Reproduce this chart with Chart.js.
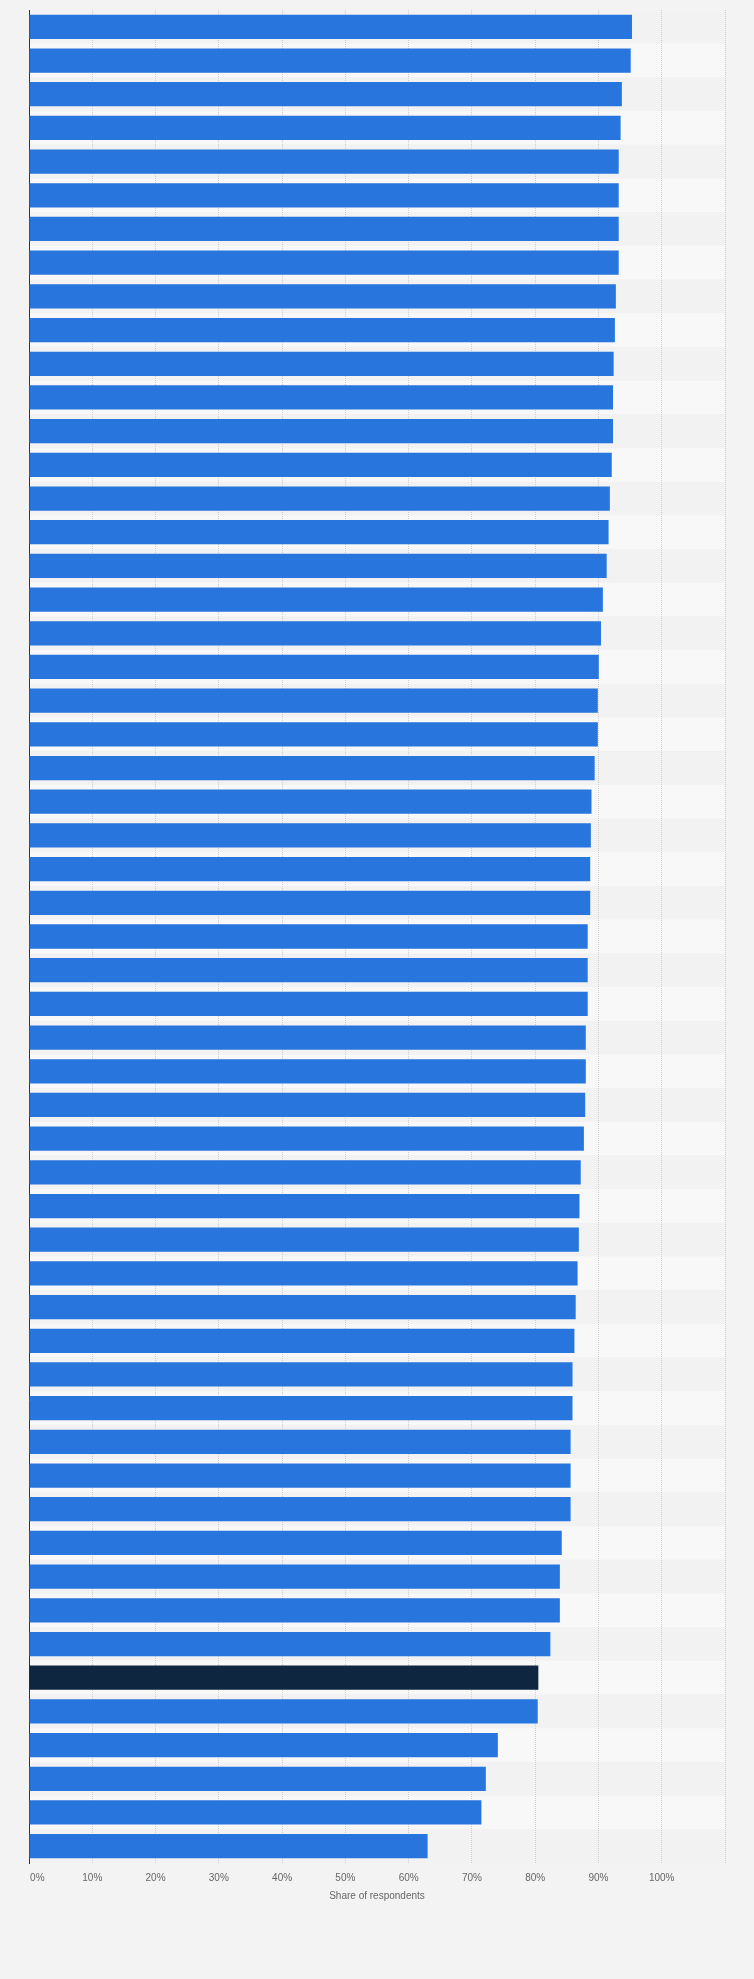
<!DOCTYPE html>
<html>
<head>
<meta charset="utf-8">
<script src="https://cdn.jsdelivr.net/npm/chart.js@4"></script>
<style>
  html, body { margin: 0; padding: 0; background: #f3f3f3; }
  #wrap { width: 754px; height: 1979px; position: relative; }
</style>
</head>
<body>
<div id="wrap"><canvas id="c"></canvas></div>
<script>
// Categories (names are not shown in the reference)
const categories = [
  "1","2","3","4","5","6","7","8","9","10",
  "11","12","13","14","15","16","17","18","19","20",
  "21","22","23","24","25","26","27","28","29","30",
  "31","32","33","34","35","36","37","38","39","40",
  "41","42","43","44","45","46","47","48","49","50",
  "51","52","53","54","55"
];
// Share of respondents (%)
const shares = [
  95.3, 95.1, 93.7, 93.5, 93.2, 93.2, 93.2, 93.2, 92.75, 92.6,
  92.4, 92.3, 92.3, 92.1, 91.8, 91.6, 91.3, 90.7, 90.4, 90.05,
  89.9, 89.9, 89.4, 88.9, 88.8, 88.7, 88.7, 88.3, 88.3, 88.3,
  88.0, 88.0, 87.9, 87.7, 87.2, 87.0, 86.9, 86.7, 86.4, 86.2,
  85.9, 85.9, 85.6, 85.6, 85.6, 84.2, 83.9, 83.9, 82.4, 80.5,
  80.4, 74.1, 72.2, 71.5, 63.0
];
const highlighted = ["50"];
const xTicks = [0, 10, 20, 30, 40, 50, 60, 70, 80, 90, 100, 110];
const xTickLabels = ["\u2007\u2007\u20070%", "10%", "20%", "30%", "40%", "50%", "60%", "70%", "80%", "90%", "100%", ""];
const axisTitle = "Share of respondents";

const barColors = categories.map(c => highlighted.includes(c) ? "#0f2641" : "#2876dd");

const stripes = {
  id: "stripes",
  beforeDraw(chart) {
    const { ctx, chartArea, scales } = chart;
    const y = scales.y;
    const n = categories.length;
    const step = (y.getPixelForValue(n - 1) - y.getPixelForValue(0)) / (n - 1);
    ctx.save();
    for (let i = 0; i < n; i++) {
      const cy = y.getPixelForValue(i);
      ctx.fillStyle = (i % 2 === 0) ? "#f2f2f2" : "#f8f8f8";
      ctx.fillRect(chartArea.left, cy - step / 2, chartArea.right - chartArea.left, step);
    }
    ctx.restore();
  }
};

Chart.defaults.font.family = "'Liberation Sans', Arial, sans-serif";

new Chart(document.getElementById("c"), {
  type: "bar",
  data: {
    labels: categories,
    datasets: [{
      data: shares,
      backgroundColor: barColors,
      borderWidth: 0,
      barPercentage: 0.72,
      categoryPercentage: 1.0
    }]
  },
  plugins: [stripes],
  options: {
    indexAxis: "y",
    responsive: true,
    maintainAspectRatio: false,
    animation: false,
    layout: { padding: { left: 29, right: 29, top: 10, bottom: 77 } },
    plugins: { legend: { display: false }, tooltip: { enabled: false } },
    scales: {
      x: {
        type: "linear",
        min: 0,
        max: 110,
        afterBuildTicks(axis) { axis.ticks = xTicks.map(v => ({ value: v })); },
        ticks: {
          color: "#666666",
          font: { size: 10 },
          padding: 9,
          maxRotation: 0,
          autoSkip: false,
          callback: (v) => xTickLabels[xTicks.indexOf(v)]
        },
        grid: {
          color: "#cfcfcf",
          lineWidth: 1,
          drawTicks: false
        },
        border: { display: false, dash: [1, 1] },
        title: {
          display: true,
          text: axisTitle,
          color: "#666666",
          font: { size: 10 },
          padding: { top: -3, bottom: 0 }
        }
      },
      y: {
        type: "category",
        ticks: { display: false },
        grid: { display: false, drawTicks: false },
        border: { display: true, color: "#333333", width: 1 }
      }
    }
  }
});
</script>
</body>
</html>
